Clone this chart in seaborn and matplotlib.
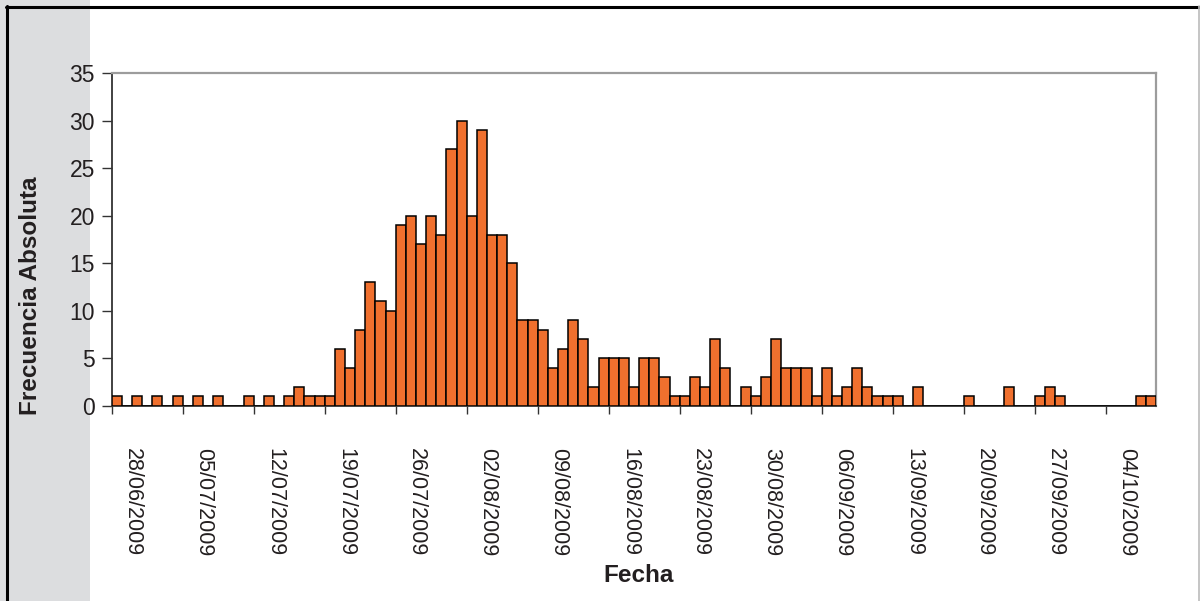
import numpy as np
import pandas as pd
import matplotlib
matplotlib.use("Agg")
import matplotlib.pyplot as plt
from matplotlib.patches import Rectangle
from matplotlib.lines import Line2D
import seaborn as sns

# ---- data -------------------------------------------------------------
start_date = "2009-06-26"
counts = [1, 0, 1, 0, 1, 0, 1, 0, 1, 0,
          1, 0, 0, 1, 0, 1, 0, 1, 2, 1,
          1, 1, 6, 4, 8, 13, 11, 10, 19, 20,
          17, 20, 18, 27, 30, 20, 29, 18, 18, 15,
          9, 9, 8, 4, 6, 9, 7, 2, 5, 5,
          5, 2, 5, 5, 3, 1, 1, 3, 2, 7,
          4, 0, 2, 1, 3, 7, 4, 4, 4, 1,
          4, 1, 2, 4, 2, 1, 1, 1, 0, 2,
          0, 0, 0, 0, 1, 0, 0, 0, 2, 0,
          0, 1, 2, 1, 0, 0, 0, 0, 0, 0,
          0, 1, 1]
dates = pd.date_range(start_date, periods=len(counts), freq="D")
date_labels = [d.strftime("%d/%m/%Y") for d in dates]
y_ticks = [0, 5, 10, 15, 20, 25, 30, 35]
x_label = "Fecha"
y_label = "Frecuencia Absoluta"

# ---- style ------------------------------------------------------------
sns.set_theme(style="white")
plt.rcParams["font.family"] = ["Liberation Sans", "DejaVu Sans"]
text_color = "#231F20"
bar_color = "#F0702E"

W, H = 1200, 601
fig = plt.figure(figsize=(W / 100, H / 100), dpi=100)
fig.patch.set_facecolor("white")

# left grey panel and frame lines
fig.add_artist(Rectangle((0, 0), 90 / W, 1, transform=fig.transFigure,
                         facecolor="#DCDDDF", edgecolor="none", zorder=0))
fig.add_artist(Line2D([7 / W, 7 / W], [0, 1 - 6 / H], transform=fig.transFigure,
                      color="black", lw=2.2, zorder=1))
fig.add_artist(Line2D([6 / W, 1], [1 - 6.5 / H, 1 - 6.5 / H], transform=fig.transFigure,
                      color="black", lw=2.2, zorder=1))
fig.add_artist(Line2D([1199 / W, 1199 / W], [0, 1 - 6 / H], transform=fig.transFigure,
                      color="#BBBBBB", lw=1.2, zorder=1))

left, right, top, bottom = 111.7, 1156.5, 73, 406
ax = fig.add_axes([left / W, 1 - bottom / H, (right - left) / W, (bottom - top) / H])
ax.set_facecolor("white")

df = pd.DataFrame({"fecha": date_labels, "n": counts})
sns.barplot(data=df, x="fecha", y="n", color=bar_color, saturation=1,
            edgecolor="black", linewidth=1.1, width=1.0, ax=ax, zorder=3)

n = len(counts)
ax.set_xlim(-0.5, n - 0.5)
ax.set_ylim(0, 35)
ax.set_yticks(y_ticks)
ax.set_yticklabels([str(v) for v in y_ticks], fontsize=16.5, color=text_color)

label_idx = list(range(2, n, 7))
ax.set_xticks([i - 0.45 for i in label_idx])
ax.set_xticklabels([date_labels[i] for i in label_idx], rotation=270,
                   fontsize=15.5, color=text_color, ha="center", va="top")
ax.set_xticks(np.arange(-0.5, n - 0.5, 7), minor=True)
ax.tick_params(axis="x", which="major", length=0, pad=30)
ax.tick_params(axis="x", which="minor", length=6, width=1, color="#333333",
               direction="out", bottom=True)
ax.tick_params(axis="y", which="major", length=7, width=1, color="#333333",
               direction="out", left=True, pad=5)

for side in ["left", "bottom"]:
    ax.spines[side].set_color("#333333")
    ax.spines[side].set_linewidth(1.3)
for side in ["top", "right"]:
    ax.spines[side].set_color("#9C9C9C")
    ax.spines[side].set_linewidth(1.6)
    ax.spines[side].set_visible(True)

ax.set_xlabel(x_label, fontsize=17.5, fontweight="bold", color=text_color)
ax.set_ylabel(y_label, fontsize=17.5, fontweight="bold", color=text_color)
ax.xaxis.set_label_coords((639 - left) / (right - left), -(575 - bottom) / (bottom - top))
ax.yaxis.set_label_coords((30 - left) / (right - left), (bottom - 296) / (bottom - top))
ax.xaxis.label.set_va("center")
ax.yaxis.label.set_va("center")
ax.grid(False)

fig.savefig("out.png", dpi=100, facecolor=fig.get_facecolor())
